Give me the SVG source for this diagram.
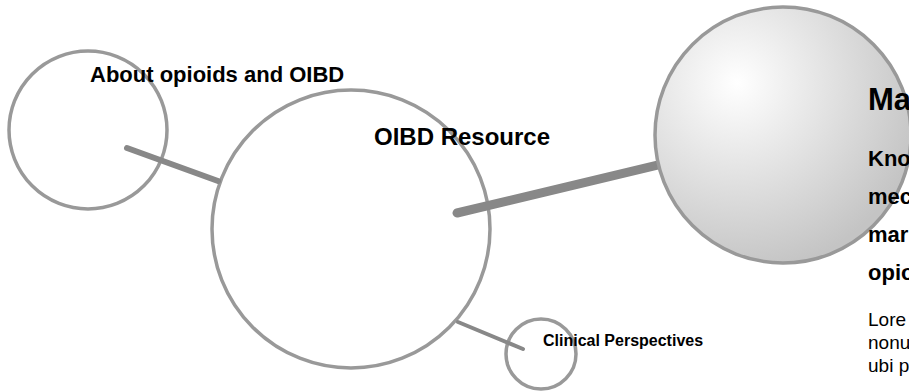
<svg xmlns="http://www.w3.org/2000/svg" width="909" height="392" viewBox="0 0 909 392">
<style>
.ring{fill:#fff;stroke:#999;stroke-width:3.5}
.hollow{fill:none;stroke:#999;stroke-width:3.5}
.link{stroke:#888;stroke-linecap:round;fill:none}
.lbl{font-family:"Liberation Sans",Arial,sans-serif;font-weight:bold;fill:#000}
.sub{font-family:"Liberation Sans",Arial,sans-serif;font-weight:bold;fill:#000;font-size:22px}
.body{font-family:"Liberation Sans",Arial,sans-serif;fill:#000;font-size:19px}
</style>
<defs>
<radialGradient id="sphere" cx="737" cy="83" r="190" gradientUnits="userSpaceOnUse">
<stop offset="0" stop-color="#ffffff"/>
<stop offset="1" stop-color="#c4c4c4"/>
</radialGradient>
</defs>
<rect width="909" height="392" fill="#fff"/>
<g id="node-about">
<circle class="hollow" cx="88" cy="130" r="79"/>
</g>
<g id="node-resource">
<circle class="ring" cx="351" cy="229" r="139"/>
</g>
<g id="node-clinical">
<circle class="hollow" cx="541" cy="354" r="35"/>
</g>
<g id="connectors">
<line class="link" x1="127" y1="148" x2="218" y2="181" stroke-width="6"/>
<line class="link" x1="458" y1="322" x2="523" y2="349" stroke-width="4"/>
<line class="link" x1="457" y1="213" x2="783" y2="135" stroke-width="9"/>
</g>
<g id="node-main">
<circle cx="783" cy="135" r="128" fill="url(#sphere)" stroke="#999" stroke-width="3.5"/>
</g>
<g id="labels">
<text class="lbl" x="90" y="82" font-size="22">About opioids and OIBD</text>
<text class="lbl" x="374" y="145" font-size="24">OIBD Resource</text>
<text class="lbl" x="543" y="346" font-size="16">Clinical Perspectives</text>
</g>
<g id="panel">
<text class="lbl" x="868" y="110" font-size="31">Ma</text>
<text class="sub" x="868" y="166">Kno</text>
<text class="sub" x="868" y="204">mec</text>
<text class="sub" x="868" y="242">mar</text>
<text class="sub" x="868" y="280">opio</text>
<text class="body" x="868" y="326">Lore</text>
<text class="body" x="868" y="349">nonu</text>
<text class="body" x="868" y="372">ubi p</text>
</g>
</svg>
